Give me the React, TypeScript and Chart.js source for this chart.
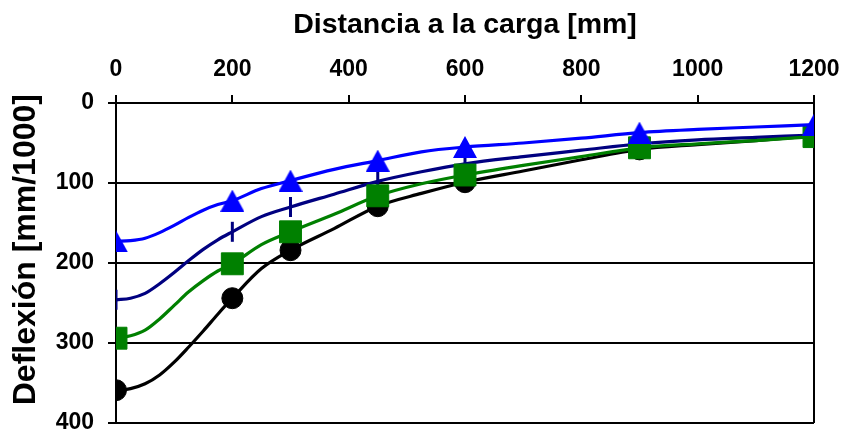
import React, { useEffect, useRef } from "react";
import { Chart, registerables } from "chart.js";

Chart.register(...registerables);

// Distance from the load [mm] at which each curve is sampled
const lineDistances = [0, 25, 50, 75, 100, 125, 150, 175, 200, 250, 300, 375, 450, 525, 600, 700, 800, 900, 1000, 1100, 1200];

// Deflection [mm/1000] for each curve
const blackDeflection = [359, 357, 351, 340, 324, 305, 285, 264, 244, 207, 184, 157, 129, 113, 99, 85, 71, 58, 52, 47, 41];
const greenDeflection = [294, 291, 284, 270, 253, 236, 222, 210, 201, 177, 161, 139, 116, 101, 90, 78, 67, 56, 51, 47, 42];
const navyDeflection = [246, 244, 238, 226, 212, 197, 183, 171, 161, 142, 130, 114, 98, 86, 76, 67, 59, 51, 46, 43, 40];
const blueDeflection = [173, 172, 169, 162, 153, 143, 134, 127, 122, 107, 97, 83, 72, 61, 55, 50, 44, 37, 33, 30, 27];

// Sensor positions, where the markers sit
const sensorDistances = [0, 200, 300, 450, 600, 900, 1200];

// Axis ticks
const xTicks = [0, 200, 400, 600, 800, 1000, 1200];
const yTicks = [0, 100, 200, 300, 400];

const FONT = "'Liberation Sans', Arial, Helvetica, sans-serif";

type Pt = { x: number; y: number };

const curve = (values: number[]): Pt[] =>
  lineDistances.map((d, i) => ({ x: d, y: values[i] }));

const sensors = (values: number[]): Pt[] =>
  sensorDistances.map((d) => ({ x: d, y: values[lineDistances.indexOf(d)] }));

// Triangle marker whose bounding box is centred on the data point
function triangleMarker(color: string, w: number, h: number): HTMLCanvasElement {
  const c = document.createElement("canvas");
  c.width = w;
  c.height = h;
  const g = c.getContext("2d")!;
  g.fillStyle = color;
  g.beginPath();
  g.moveTo(w / 2, 0);
  g.lineTo(w, h);
  g.lineTo(0, h);
  g.closePath();
  g.fill();
  return c;
}

function lineSet(values: number[], color: string) {
  return {
    type: "line" as const,
    data: curve(values),
    borderColor: color,
    borderWidth: 3.2,
    pointRadius: 0,
    cubicInterpolationMode: "monotone" as const,
    fill: false,
  };
}

function markerSet(values: number[], color: string, style: any, radius: number, extra: any = {}) {
  return {
    type: "line" as const,
    data: sensors(values),
    showLine: false,
    borderColor: color,
    backgroundColor: color,
    pointStyle: style,
    pointRadius: radius,
    pointBorderWidth: 1,
    pointBorderColor: color,
    pointBackgroundColor: color,
    ...extra,
  };
}

export default function App() {
  const canvasRef = useRef<HTMLCanvasElement | null>(null);

  useEffect(() => {
    const canvas = canvasRef.current;
    if (!canvas) return;

    const blueTriangle = triangleMarker("#0000ff", 24, 22);

    const chart = new Chart(canvas, {
      type: "line",
      data: {
        datasets: [
          markerSet(blueDeflection, "#0000ff", blueTriangle, 12),
          lineSet(blueDeflection, "#0000ff"),
          markerSet(greenDeflection, "#008000", "rect", 15.5),
          lineSet(greenDeflection, "#008000"),
          markerSet(navyDeflection, "#000080", "line", 10, { pointRotation: 90, pointBorderWidth: 3 }),
          lineSet(navyDeflection, "#000080"),
          markerSet(blackDeflection, "#000000", "circle", 10.5),
          lineSet(blackDeflection, "#000000"),
        ] as any,
      },
      options: {
        animation: false,
        responsive: false,
        devicePixelRatio: 1,
        layout: { autoPadding: false, padding: { left: 0, top: 0, right: 33, bottom: 12 } },
        plugins: {
          legend: { display: false },
          tooltip: { enabled: false },
        },
        scales: {
          x: {
            type: "linear",
            position: "top",
            min: 0,
            max: 1200,
            afterFit: (s: any) => {
              s.height = 103;
              s.paddingLeft = 0;
              s.paddingRight = 0;
            },
            afterBuildTicks: (s: any) => {
              s.ticks = xTicks.map((v) => ({ value: v }));
            },
            ticks: {
              color: "#000",
              padding: 14,
              maxRotation: 0,
              callback: (v: any) => String(v),
              font: { family: FONT, size: 23, weight: "bold", lineHeight: 1 },
            },
            grid: {
              drawOnChartArea: true,
              color: (ctx: any) => (ctx.tick && ctx.tick.value === 1200 ? "#000" : "rgba(0,0,0,0)"),
              tickColor: "#000",
              tickLength: 8,
              lineWidth: 2,
              tickWidth: 2,
            },
            border: { display: true, color: "#000", width: 2 },
            title: {
              display: true,
              text: "Distancia a la carga [mm]",
              color: "#000",
              padding: { top: 11, bottom: 0 },
              font: { family: FONT, size: 28.5, weight: "bold", lineHeight: 1 },
            },
          },
          y: {
            type: "linear",
            reverse: true,
            min: 0,
            max: 400,
            afterFit: (s: any) => {
              s.width = 116;
              s.paddingTop = 0;
              s.paddingBottom = 0;
            },
            afterBuildTicks: (s: any) => {
              s.ticks = yTicks.map((v) => ({ value: v }));
            },
            ticks: {
              color: "#000",
              padding: 14,
              callback: (v: any) => String(v),
              font: { family: FONT, size: 23, weight: "bold", lineHeight: 1 },
            },
            grid: {
              color: "#000",
              tickColor: "#000",
              tickLength: 8,
              lineWidth: 2,
              tickWidth: 2,
            },
            border: { display: true, color: "#000", width: 2 },
            title: {
              display: true,
              text: "   Deflexión [mm/1000]",
              color: "#000",
              padding: { top: 10, bottom: 0 },
              font: { family: FONT, size: 32, weight: "bold", lineHeight: 1 },
            },
          },
        },
      } as any,
    });

    return () => chart.destroy();
  }, []);

  return (
    <div style={{ position: "absolute", left: 0, top: 0, width: 847, height: 435, background: "#fff" }}>
      <canvas ref={canvasRef} width={847} height={435} style={{ display: "block" }} />
    </div>
  );
}
